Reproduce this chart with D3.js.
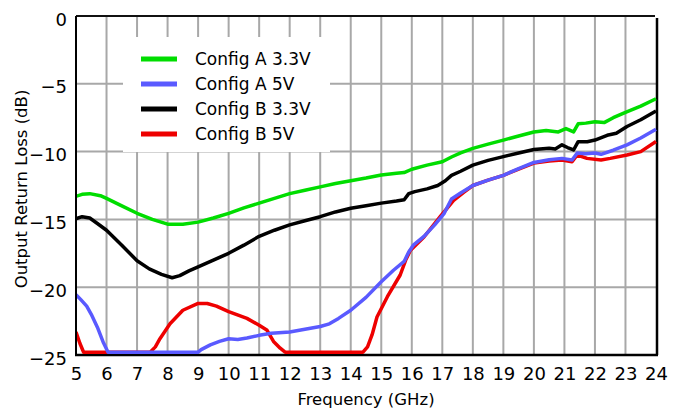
<!DOCTYPE html>
<html>
<head>
<meta charset="utf-8">
<script src="https://cdn.jsdelivr.net/npm/d3@7"></script>
<style>
body{margin:0;background:#fff;}
svg{display:block;font-family:"DejaVu Sans",Verdana,sans-serif;}
.grid line{stroke:#a8a8a8;stroke-width:2;}
.curve{fill:none;stroke-width:3.5;stroke-linejoin:round;}
</style>
</head>
<body>
<div id="chart"></div>
<script>
'use strict';
// frequency (GHz), return loss (dB)
var configA33=[
    [5.0,-13.3],[5.2,-13.15],[5.45,-13.1],[5.8,-13.25],[6.0,-13.45],[6.5,-14.0],
    [7.0,-14.55],[7.5,-15.0],[8.0,-15.35],[8.5,-15.35],[9.0,-15.2],[9.5,-14.9],
    [10.0,-14.55],[10.5,-14.15],[11.0,-13.8],[11.5,-13.45],[12.0,-13.1],[12.5,-12.85],
    [13.0,-12.6],[13.5,-12.35],[14.0,-12.15],[14.5,-11.95],[15.0,-11.72],[15.5,-11.6],
    [15.75,-11.55],[16.0,-11.3],[16.5,-11.0],[17.0,-10.75],[17.3,-10.4],[17.6,-10.1],
    [18.0,-9.76],[18.5,-9.45],[19.0,-9.15],[19.5,-8.85],[20.0,-8.55],[20.4,-8.45],
    [20.8,-8.55],[21.05,-8.3],[21.3,-8.55],[21.45,-7.95],[21.7,-7.9],[22.0,-7.8],
    [22.3,-7.86],[22.6,-7.5],[23.0,-7.1],[23.5,-6.65],[24.0,-6.1]
];
var configA5=[
    [5.0,-20.55],[5.15,-20.9],[5.35,-21.4],[5.5,-22.0],[5.7,-22.95],[5.9,-24.1],
    [6.05,-25],[9.0,-25],[9.1,-24.6],[9.4,-24.25],[9.7,-24.0],[10.0,-23.8],
    [10.3,-23.85],[10.6,-23.75],[11.0,-23.55],[11.4,-23.4],[12.0,-23.3],[12.5,-23.1],
    [13.0,-22.9],[13.3,-22.7],[13.6,-22.3],[14.0,-21.7],[14.5,-20.75],[15.0,-19.6],
    [15.4,-18.75],[15.75,-18.1],[15.9,-17.4],[16.05,-16.9],[16.4,-16.25],[16.75,-15.4],
    [17.05,-14.6],[17.3,-13.5],[17.6,-13.05],[18.0,-12.5],[18.5,-12.1],[19.0,-11.75],
    [19.5,-11.25],[20.0,-10.8],[20.5,-10.6],[20.92,-10.5],[21.25,-10.62],[21.42,-10.1],
    [21.7,-10.15],[22.0,-10.1],[22.2,-10.2],[22.6,-9.9],[23.05,-9.5],[23.5,-9.0],[24.0,-8.35]
];
var configB33=[
    [5.0,-14.95],[5.2,-14.8],[5.45,-14.9],[5.7,-15.3],[6.0,-15.8],[6.5,-16.9],
    [7.0,-18.05],[7.4,-18.65],[7.8,-19.05],[8.15,-19.3],[8.4,-19.15],[8.7,-18.8],
    [9.0,-18.5],[9.5,-18.0],[10.0,-17.5],[10.5,-16.9],[11.0,-16.25],[11.5,-15.8],
    [12.0,-15.4],[12.5,-15.1],[13.0,-14.8],[13.5,-14.45],[14.0,-14.18],[14.5,-14.0],
    [15.0,-13.8],[15.5,-13.65],[15.75,-13.55],[15.9,-13.1],[16.1,-12.95],[16.5,-12.75],
    [16.85,-12.5],[17.1,-12.15],[17.3,-11.75],[17.6,-11.45],[18.0,-11.0],[18.5,-10.65],
    [19.0,-10.37],[19.5,-10.1],[20.0,-9.85],[20.5,-9.75],[20.7,-9.8],[20.92,-9.5],
    [21.1,-9.7],[21.3,-9.88],[21.45,-9.27],[21.75,-9.27],[22.0,-9.15],[22.4,-8.8],
    [22.7,-8.65],[23.05,-8.15],[23.5,-7.65],[24.0,-7.0]
];
var configB5=[
    [5.0,-23.3],[5.13,-24.15],[5.25,-25],[7.43,-25],[7.6,-24.4],[7.75,-23.8],
    [8.08,-22.7],[8.5,-21.7],[9.0,-21.2],[9.3,-21.2],[9.6,-21.4],[10.0,-21.8],
    [10.6,-22.3],[11.0,-22.8],[11.25,-23.15],[11.47,-24.0],[11.69,-24.5],[11.85,-25],
    [14.4,-25],[14.55,-24.4],[14.7,-23.5],[14.86,-22.2],[15.2,-20.7],[15.62,-19.1],
    [15.8,-18.0],[15.95,-17.3],[16.4,-16.3],[16.93,-14.8],[17.37,-13.6],[17.7,-13.0],
    [18.0,-12.5],[18.5,-12.1],[19.0,-11.75],[19.5,-11.3],[20.0,-10.85],[20.5,-10.7],
    [20.92,-10.62],[21.25,-10.75],[21.42,-10.25],[21.74,-10.5],[22.2,-10.62],[22.5,-10.5],
    [23.05,-10.25],[23.5,-10.0],[24.0,-9.25]
];
var seriesNames=["Config A 3.3V","Config A 5V","Config B 3.3V","Config B 5V"];
var seriesColors=["#00dd00","#5a5aff","#000000","#ee0000"];
var xTicks=d3.range(5,25,1);
var yTicks=[0,-5,-10,-15,-20,-25];

var W=681,H=414;
var margin={top:16,right:25,bottom:59,left:76};
var width=W-margin.left-margin.right,
    height=H-margin.top-margin.bottom;

var x=d3.scaleLinear().domain([5,24]).range([0,width]);
var y=d3.scaleLinear().domain([-25,0]).range([height,0]);

var svg=d3.select("#chart").append("svg")
    .attr("width",W).attr("height",H);
var g=svg.append("g")
    .attr("transform","translate("+margin.left+","+margin.top+")");

// grid
var grid=g.append("g").attr("class","grid");
grid.selectAll(".vx").data(xTicks.slice(1,-1)).enter().append("line")
    .attr("x1",function(d){return x(d);}).attr("x2",function(d){return x(d);})
    .attr("y1",0).attr("y2",height);
grid.selectAll(".hy").data(yTicks.slice(1,-1)).enter().append("line")
    .attr("x1",0).attr("x2",width)
    .attr("y1",function(d){return y(d);}).attr("y2",function(d){return y(d);});

// legend box hides the grid behind it
var legend=g.append("g").attr("transform","translate(47,21)");
legend.append("rect").attr("width",207).attr("height",115).attr("fill","#fff");
seriesNames.forEach(function(name,i){
    var ly=22+i*25;
    legend.append("line")
        .attr("x1",18).attr("x2",54).attr("y1",ly).attr("y2",ly)
        .attr("stroke",seriesColors[i]).attr("stroke-width",5);
    legend.append("text")
        .attr("x",72).attr("y",ly).attr("dy","0.37em")
        .attr("font-size",17).attr("fill","#000")
        .text(name);
});

// frame
g.append("line").attr("x1",0).attr("x2",width-1).attr("y1",0).attr("y2",0)
    .attr("stroke","#111").attr("stroke-width",2);
g.append("line").attr("x1",width+1).attr("x2",width+1).attr("y1",2).attr("y2",height)
    .attr("stroke","#000").attr("stroke-width",2.5);
g.append("line").attr("x1",0).attr("x2",0).attr("y1",0).attr("y2",height)
    .attr("stroke","#000").attr("stroke-width",2);
g.append("line").attr("x1",-1).attr("x2",width+2).attr("y1",height).attr("y2",height)
    .attr("stroke","#000").attr("stroke-width",2.5);

// curves sit on top of the frame; the -25 floor rests just above the axis line
g.append("clipPath").attr("id","clip").append("rect")
    .attr("x",1).attr("width",width).attr("height",height-1);
var line=d3.line()
    .x(function(d){return x(d[0]);})
    .y(function(d){return Math.min(y(d[1]),height-2.8);});
var curves=[configA33,configA5,configB33,configB5];
var plotG=g.append("g").attr("clip-path","url(#clip)");
[3,1,2,0].forEach(function(i){
    plotG.append("path")
        .datum(curves[i])
        .attr("class","curve")
        .attr("stroke",seriesColors[i])
        .attr("d",line);
});

// axes (labels only)
var xAxis=g.append("g").attr("transform","translate(0,"+height+")")
    .call(d3.axisBottom(x).tickValues(xTicks).tickSize(0).tickPadding(12));
var yAxis=g.append("g")
    .call(d3.axisLeft(y).tickValues(yTicks).tickSize(0).tickPadding(9));
[xAxis,yAxis].forEach(function(a){
    a.select(".domain").remove();
    a.selectAll("text").attr("font-size",18).attr("font-family","DejaVu Sans").attr("fill","#000");
});
yAxis.selectAll("text").attr("dy","0.5em");

svg.append("text")
    .attr("x",margin.left+width/2).attr("y",405)
    .attr("text-anchor","middle").attr("font-size",16.5)
    .text("Frequency (GHz)");
svg.append("text")
    .attr("transform","translate(27,189) rotate(-90)")
    .attr("text-anchor","middle").attr("font-size",16.5)
    .text("Output Return Loss (dB)");
</script>
</body>
</html>
